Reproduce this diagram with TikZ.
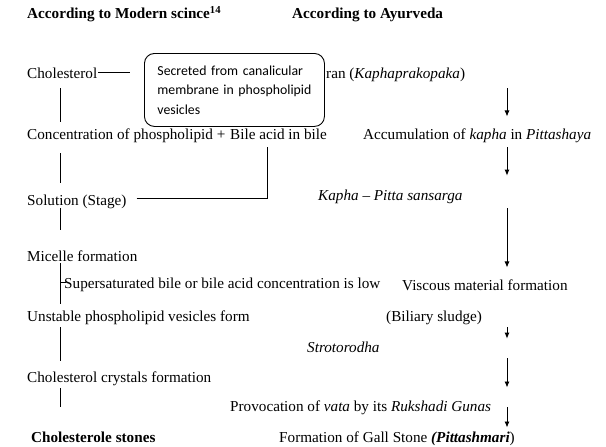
\documentclass[tikz,border=0pt]{standalone}
\usepackage{fontspec}
\setmainfont{Liberation Serif}
\newfontfamily\calfont{Carlito}
\usetikzlibrary{arrows.meta}

\begin{document}
\begin{tikzpicture}[x=1pt,y=-1pt,
  txt/.style={anchor=base west,inner sep=0pt,font=\fontsize{15.2}{18}\selectfont},
  hd/.style={txt,font=\fontsize{15.2}{18}\selectfont\bfseries},
  note/.style={draw,rounded corners=10pt,fill=white,line width=0.9pt,anchor=north west,
    minimum width=180pt,minimum height=73pt,text width=154pt,inner xsep=13pt,align=left,
    font=\calfont\fontsize{13.8}{19.5}\selectfont},
  lnk/.style={line width=0.9pt},
  >={Latex[length=6pt,width=5pt]}]
  \useasboundingbox (0,0) rectangle (606,447);
  \coordinate (lx) at (60,0);
  \coordinate (ax) at (507,0);
  % headings
  \node[hd] (mod) at (27,19) {According to Modern scince\textsuperscript{14}};
  \node[hd] (ayu) at (292,19) {According to Ayurveda};
  % modern science column
  \node[txt] (chol) at (27,78) {Cholesterol};
  \node[txt] (conc) at (27,139) {Concentration of phospholipid +};
  \node[txt] (bile) at (230,139) {Bile acid in bile};
  \node[txt] (sol) at (27,205) {Solution (Stage)};
  \node[txt] (mic) at (27,261) {Micelle formation};
  \node[txt] (supe) at (64,288) {Supersaturated bile or bile acid concentration is low};
  \node[txt] (unst) at (27,321) {Unstable phospholipid vesicles form};
  \node[txt] (cryst) at (27,382) {Cholesterol crystals formation};
  \node[hd] (stones) at (31,442) {Cholesterole stones};
  % ayurveda column
  \node[txt] (kaph) at (326,78) {ran (\textit{Kaphaprakopaka})};
  \node[txt] (accu) at (363,139) {Accumulation of \textit{kapha} in \textit{Pittashaya}};
  \node[txt] (kp) at (318,200) {\textit{Kapha -- Pitta sansarga}};
  \node[txt] (visc) at (402,290) {Viscous material formation};
  \node[txt] (bil) at (386,321) {(Biliary sludge)};
  \node[txt] (stro) at (307,352) {\textit{Strotorodha}};
  \node[txt] (prov) at (230,411) {Provocation of \textit{vata} by its \textit{Rukshadi Gunas}};
  \node[txt] (gall) at (279,442) {Formation of Gall Stone \textbf{\textit{(Pittashmari}})};
  % callout
  \node[note] (box) at (144,53) {Secreted from canalicular\\membrane in phospholipid\\vesicles};
  \draw[lnk,shorten <=1pt,shorten >=14pt] (chol.east) -- (chol.east -| box.west);
  % left links
  \draw[lnk,shorten <=10pt,shorten >=5.6pt] (chol.south -| lx) -- (conc.north -| lx);
  \draw[lnk,shorten <=10.7pt,shorten >=11.6pt] (conc.south -| lx) -- (sol.north -| lx);
  \draw[lnk,shorten <=0pt,shorten >=19.6pt] (sol.south -| lx) -- (mic.north -| lx);
  \draw[lnk,shorten <=2pt,shorten >=5.6pt] (mic.south -| lx) -- (unst.north -| lx);
  \draw[lnk,shorten >=-2pt] ([yshift=1.5pt]supe.west -| lx) -- ([yshift=1.5pt]supe.west);
  \draw[lnk,shorten <=2.7pt,shorten >=9.6pt] (unst.south -| lx) -- (cryst.north -| lx);
  \draw[lnk,shorten <=2.7pt,shorten >=24.6pt] (cryst.south -| lx) -- (stones.north -| lx);
  \draw[lnk,shorten <=10pt,shorten >=8pt] ([yshift=2.5pt]sol.east) -| ([xshift=-11pt]bile.south);
  % right arrows
  \draw[lnk,->,shorten <=6.7pt,shorten >=11.6pt] (kaph.south -| ax) -- (accu.north -| ax);
  \draw[lnk,->,shorten <=4.7pt,shorten >=13.6pt] (accu.south -| ax) -- (kp.north -| ax);
  \draw[lnk,->,shorten <=4.7pt,shorten >=11.6pt] (kp.south -| ax) -- (visc.north -| ax);
  \draw[lnk,->,shorten <=2.7pt,shorten >=2.6pt] (bil.south -| ax) -- (stro.north -| ax);
  \draw[lnk,->,shorten <=6pt,shorten >=12.6pt] (stro.south -| ax) -- (prov.north -| ax);
  \draw[lnk,->,shorten <=-7.3pt,shorten >=3.6pt] (prov.south -| ax) -- (gall.north -| ax);
\end{tikzpicture}
\end{document}
